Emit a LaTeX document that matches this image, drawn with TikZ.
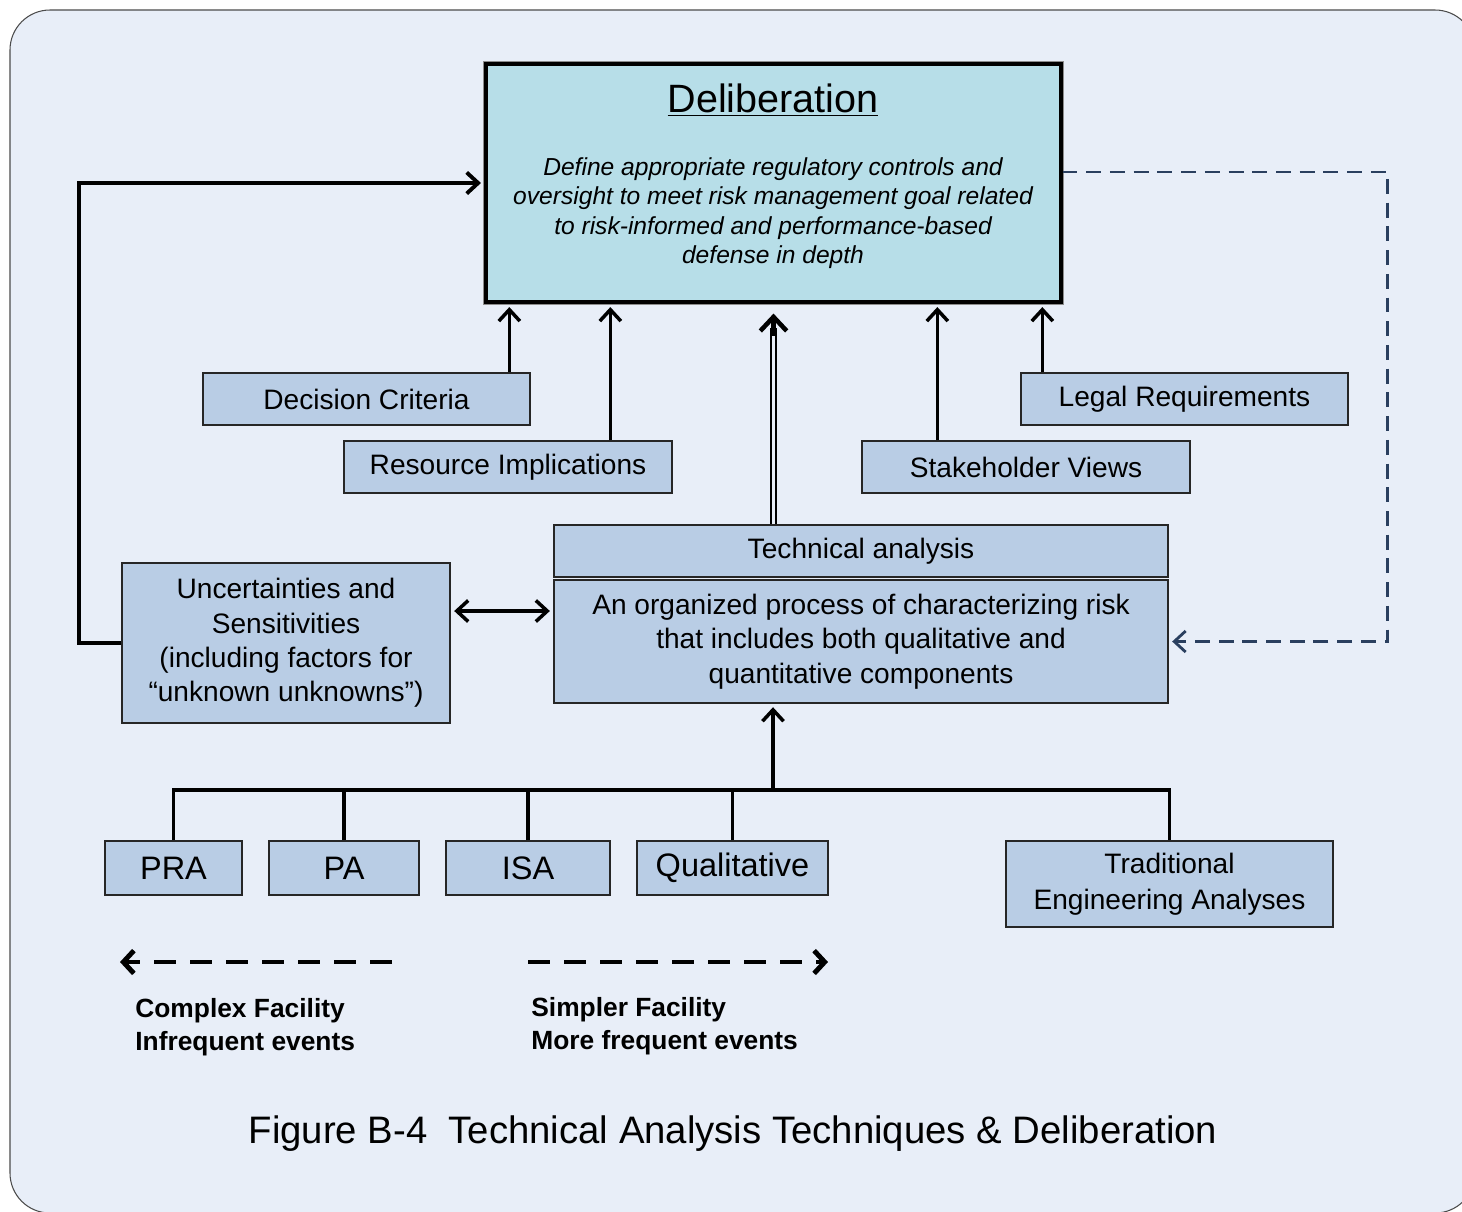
\documentclass[tikz,border=0pt]{standalone}
\usepackage{fontspec}
\setmainfont{Liberation Sans}
\usepackage{tikz}
\usetikzlibrary{positioning, calc, arrows.meta}
\definecolor{frame}{HTML}{E8EEF8}
\definecolor{steel}{HTML}{B9CDE5}
\definecolor{aqua}{HTML}{B7DEE8}
\definecolor{inkblue}{HTML}{2A3F5F}

\begin{document}
\begin{tikzpicture}[x=0.02cm, y=-0.02cm, >={Straight Barb[length=6.5pt,width=12pt]},
  box/.style={draw=black!85, line width=0.8pt, fill=steel, align=center, inner sep=0pt, font=\fontsize{16}{19.5}\selectfont},
  delibbox/.style={draw=black, line width=1.8pt, fill=aqua, preaction={draw=black!45, line width=3.4pt}},
  arr/.style={->, line width=2pt, shorten >=2pt},
  wire/.style={line width=2.2pt},
  dasharr/.style={->, inkblue, line width=1.6pt, dash pattern=on 8.5pt off 5pt, shorten >=2pt},
  bigdash/.style={->, line width=2.8pt, dash pattern=on 12.5pt off 8pt, >={Straight Barb[length=6pt,width=13pt]}},
  lbl/.style={font=\bfseries\fontsize{15}{18.8}\selectfont, align=left, inner sep=0pt}]
\useasboundingbox (0,0) rectangle (1462,1211);
\fill[white] (0,0) rectangle (1462,1211);
\clip (0,0) rectangle (1462,1211);
\draw[fill=frame, draw=black!70, line width=0.6pt, rounded corners=0.8cm] (10,10) rectangle (1475,1213);

\node[delibbox, minimum width=11.5cm, minimum height=4.76cm] (delib) at (773.5,183) {};
\node[font=\fontsize{22.5}{27}\selectfont, anchor=base] (delibtitle) at (773,112) {\underline{Deliberation}};
\node[font=\fontsize{14}{16.8}\selectfont\itshape, align=center] (delibtext) at (773,213) {Define appropriate regulatory controls and\\oversight to meet risk management goal related\\to risk-informed and performance-based\\defense in depth};

\node[box, minimum width=6.54cm, minimum height=1.04cm] (crit) at (366.5,399) {Decision Criteria};
\node[box, minimum width=6.56cm, minimum height=1.04cm] (res) at (508,467) {Resource Implications};
\node[box, minimum width=6.56cm, minimum height=1.04cm] (stake) at (1026,467) {Stakeholder Views};
\node[box, minimum width=6.54cm, minimum height=1.04cm] (legal) at (1184.5,399) {Legal Requirements};
\node[box, minimum width=12.28cm, minimum height=1.04cm] (tech) at (861,551) {Technical analysis};
\node[box, minimum width=12.28cm, minimum height=2.46cm] (proc) at (861,641.5) {An organized process of characterizing risk\\that includes both qualitative and\\quantitative components};
\node[box, minimum width=6.56cm, minimum height=3.2cm] (unc) at (286,643) {Uncertainties and\\Sensitivities\\(including factors for\\“unknown unknowns”)};

\node[box, font=\fontsize{18.5}{22}\selectfont, minimum width=2.74cm, minimum height=1.08cm] (pra) at (173.5,868) {PRA};
\node[box, font=\fontsize{18.5}{22}\selectfont, minimum width=3cm, minimum height=1.08cm] (pa) at (344,868) {PA};
\node[box, font=\fontsize{18.5}{22}\selectfont, minimum width=3.28cm, minimum height=1.08cm] (isa) at (528,868) {ISA};
\node[box, font=\fontsize{18.5}{22}\selectfont, minimum width=3.82cm, minimum height=1.08cm] (qual) at (732.5,868) {Qualitative};
\node[box, font=\fontsize{16}{20.5}\selectfont, minimum width=6.54cm, minimum height=1.72cm] (trad) at (1169.5,884) {Traditional\\Engineering Analyses};

\foreach \n/\dx in {crit/307, res/267, stake/76, legal/22}
  \draw[arr] ($(\n.north west)+(\dx,0)$) coordinate (\n-up) -- (\n-up |- delib.south);
\draw[double=frame, double distance=2pt, line width=1pt] (tech.north -| delib.south) -- ($(delib.south)+(0,24)$);
\draw[->, line width=2.6pt, >={Straight Barb[length=8pt,width=15pt]}] ($(delib.south)+(0,32)$) -- ($(delib.south)+(0,10)$);
\draw[arr, line width=2.2pt] (unc.west) -- ++(-42,0) |- (delib.west);
\draw[dasharr] ($(delib.east)+(0,-11)$) -| ($(proc.east)+(219,0)$) -- (proc.east);
\draw[arr, <->, shorten <=2pt] ($(unc.east)+(0,-32)$) coordinate (uncside) -- (uncside -| proc.west);

\coordinate (bus) at (773,790);
\draw[wire] (pra.north) -- (pra.north |- bus) -- (trad.north |- bus) -- (trad.north);
\foreach \n in {pa, isa, qual}
  \draw[wire] (\n.north) -- (\n.north |- bus);
\draw[arr] (bus) -- (bus |- proc.south);

\coordinate (cplxR) at (392,962);
\coordinate (cplxL) at (120,962);
\coordinate (simpL) at (528,962);
\coordinate (simpR) at (828,962);
\draw[bigdash] (cplxR) -- (cplxL);
\draw[bigdash] (simpL) -- (simpR);
\node[lbl, anchor=north west] (cplx) at (135,998) {Complex Facility\\Infrequent events};
\node[lbl, anchor=north west] (simp) at (531,997) {Simpler Facility\\More frequent events};

\node[font=\fontsize{21.8}{26}\selectfont] (caption) at (733,1134) {Figure B-4\ \ Technical Analysis Techniques \& Deliberation};
\end{tikzpicture}
\end{document}
